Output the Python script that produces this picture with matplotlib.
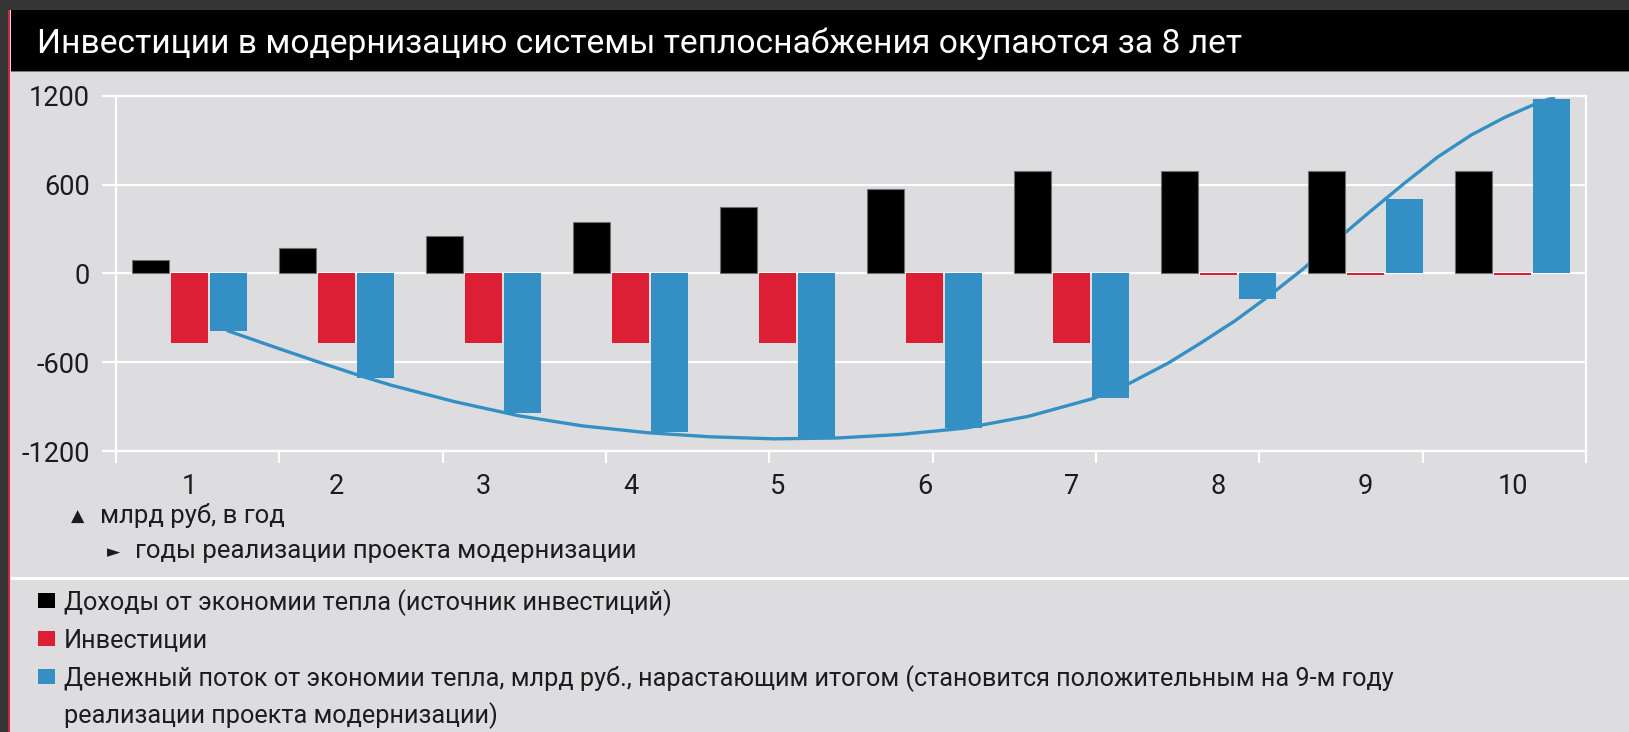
"""Payback chart for heat-supply modernisation investments."""
from __future__ import annotations

import matplotlib

matplotlib.use("Agg")

import matplotlib.pyplot as plt
import numpy as np
from matplotlib.patches import Rectangle

# Canvas
WIDTH_PX, HEIGHT_PX = 1629, 732
DPI = 100

# Data (billion rub per year)
YEARS = [1, 2, 3, 4, 5, 6, 7, 8, 9, 10]
INCOME = [90, 170, 250, 350, 450, 570, 690, 690, 690, 690]
INVESTMENT = [-470, -470, -470, -470, -470, -470, -470, -10, -10, -10]
CASH_FLOW = [-390, -710, -940, -1075, -1105, -1045, -840, -175, 505, 1180]

# Smoothed cash-flow line
CURVE_X = [1.26, 1.59, 1.85, 2.15, 2.37, 2.80, 3.24, 3.67, 4.11, 4.54, 4.98,
           5.41, 5.84, 6.28, 6.71, 7.15, 7.40, 7.66, 7.88, 8.11, 8.34, 8.57,
           8.80, 9.03, 9.26, 9.49, 9.72, 9.95, 10.18, 10.28]
CURVE_Y = [-388, -502, -590, -688, -755, -866, -962, -1030, -1076, -1104,
           -1118, -1112, -1088, -1045, -965, -845, -740, -605, -470, -322,
           -155, 25, 222, 416, 605, 785, 935, 1055, 1155, 1186]

Y_TICKS = [-1200, -600, 0, 600, 1200]
Y_TICK_LABELS = ["-1200", "-600", "0", "600", "1200"]

TITLE = "Инвестиции в модернизацию системы теплоснабжения окупаются за 8 лет"
NOTE_Y = "млрд руб, в год"
NOTE_X = "годы реализации проекта модернизации"
LEGEND_LABELS = [
    "Доходы от экономии тепла (источник инвестиций)",
    "Инвестиции",
    "Денежный поток от экономии тепла, млрд руб., нарастающим итогом "
    "(становится положительным на 9-м году",
]
LEGEND_TAIL = "реализации проекта модернизации)"

# Colours
PANEL = "#dddde0"
FRAME = "#363636"
RED_LINE = "#d0263a"
BLACK = "#000000"
RED = "#dc1f35"
BLUE = "#3490c4"
TEXT = "#1c1c1c"

FONT = ["Roboto", "DejaVu Sans"]


def fx(x: float) -> float:
    return x / WIDTH_PX


def fy(y: float) -> float:
    return 1 - y / HEIGHT_PX


def draw_frame(fig: plt.Figure) -> None:
    def rect(x0, y0, x1, y1, color, z=0):
        fig.add_artist(Rectangle((fx(x0), fy(y1)), fx(x1 - x0), (y1 - y0) / HEIGHT_PX,
                                 transform=fig.transFigure, color=color, lw=0, zorder=z))

    rect(0, 0, WIDTH_PX, 10, FRAME)
    rect(0, 0, 8, HEIGHT_PX, FRAME)
    rect(8, 10, 10.5, HEIGHT_PX, RED_LINE)
    rect(10.5, 10, WIDTH_PX, 71, BLACK)
    rect(10.5, 70.5, WIDTH_PX, 72, "#7a7a7a")
    rect(10.5, 577, WIDTH_PX, 579.5, "white")

    fig.text(fx(37), fy(53), TITLE, color="white", fontsize=24.2,
             family=FONT, va="baseline", ha="left")


def draw_chart(fig: plt.Figure) -> None:
    ax = fig.add_axes([fx(116), fy(451), fx(1586 - 116), (451 - 95.7) / HEIGHT_PX])
    ax.set_facecolor("none")

    x = np.array(YEARS, dtype=float)
    width = 0.25
    ax.plot(CURVE_X, CURVE_Y, color=BLUE, lw=2.4, zorder=2,
            solid_capstyle="round", solid_joinstyle="round")
    ax.bar(x - 0.265, INCOME, width, color=BLACK, edgecolor="#707070", lw=0.8, zorder=3)
    ax.bar(x, INVESTMENT, width, color=RED, lw=0, zorder=3)
    ax.bar(x + 0.265, CASH_FLOW, width, color=BLUE, lw=0, zorder=3)

    ax.set_xlim(0.5, 10.5)
    ax.set_ylim(-1200, 1200)

    ax.set_yticks(Y_TICKS)
    ax.set_yticklabels(Y_TICK_LABELS)
    ax.yaxis.grid(True, color="white", lw=1.6, zorder=1)
    ax.set_axisbelow(True)
    ax.tick_params(axis="y", length=10, width=1.6, color="white", pad=9,
                   labelsize=19.5, labelcolor=TEXT)

    ax.set_xticks(YEARS)
    ax.set_xticklabels([str(y) for y in YEARS])
    ax.set_xticks(np.linspace(0.5, 10.5, 10), minor=True)
    ax.tick_params(axis="x", which="major", length=0, pad=16,
                   labelsize=19.5, labelcolor=TEXT)
    ax.tick_params(axis="x", which="minor", length=8.5, width=1.6, color="white")

    for spine in ax.spines.values():
        spine.set_color("white")
        spine.set_linewidth(1.6)

    for label in ax.get_xticklabels() + ax.get_yticklabels():
        label.set_family(FONT)


def draw_notes(fig: plt.Figure) -> None:
    fig.text(fx(78), fy(517), "▲", fontsize=12.5, color=TEXT,
             family="DejaVu Sans", ha="center", va="center")
    fig.text(fx(100), fy(523), NOTE_Y, fontsize=18.5, color=TEXT,
             family=FONT, va="baseline")
    fig.text(fx(114), fy(552), "►", fontsize=12.5, color=TEXT,
             family="DejaVu Sans", ha="center", va="center")
    fig.text(fx(135), fy(558), NOTE_X, fontsize=18.5, color=TEXT,
             family=FONT, va="baseline")


def draw_legend(fig: plt.Figure) -> None:
    colors = [BLACK, RED, BLUE]
    baselines = [610, 648, 686]
    for color, label, base in zip(colors, LEGEND_LABELS, baselines):
        fig.add_artist(Rectangle((fx(38), fy(base - 2)), fx(17), 15 / HEIGHT_PX,
                                 transform=fig.transFigure, color=color, lw=0))
        fig.text(fx(64), fy(base), label, fontsize=18.2, color=TEXT,
                 family=FONT, va="baseline")
    fig.text(fx(64), fy(723), LEGEND_TAIL, fontsize=18.2, color=TEXT,
             family=FONT, va="baseline")


def main() -> None:
    fig = plt.figure(figsize=(WIDTH_PX / DPI, HEIGHT_PX / DPI), dpi=DPI)
    fig.patch.set_facecolor(PANEL)
    draw_frame(fig)
    draw_chart(fig)
    draw_notes(fig)
    draw_legend(fig)
    fig.savefig("out.png", dpi=DPI, facecolor=PANEL)
    plt.close(fig)


if __name__ == "__main__":
    main()
